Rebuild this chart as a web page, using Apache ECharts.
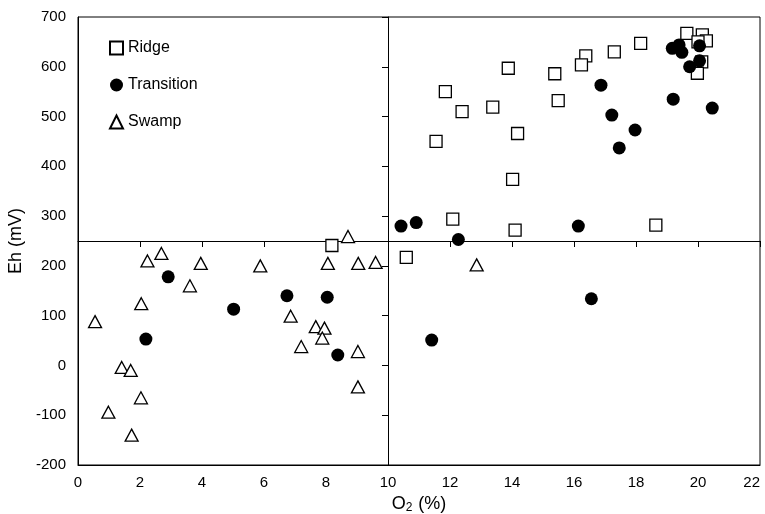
<!DOCTYPE html>
<html>
<head>
<meta charset="utf-8">
<script src="https://cdn.jsdelivr.net/npm/echarts@6/dist/echarts.min.js"></script>
<style>html,body{margin:0;padding:0;background:#fff}#c{width:765px;height:514px}</style>
</head>
<body>
<div id="c"></div>
<script>
const xTicks = [0,2,4,6,8,10,12,14,16,18,20,22];
const yTicks = [-200,-100,0,100,200,300,400,500,600,700];
const crossO2 = 10;
const crossEh = 250;

const ridgeO2 = [19.64,20.14,20.27,20.0,20.12,19.98,18.15,17.3,16.38,16.24,15.38,13.88,15.49,11.85,13.38,12.39,14.18,11.55,14.02,12.09,14.1,18.64,10.59,8.19];
const ridgeEh = [667,664,652,650,610,587,647,630,622,604,586,597,532,550,519,510,466,450,374,294,272,282,217,241];

const transO2 = [19.39,19.17,19.48,20.05,20.05,19.73,16.87,19.2,20.46,17.22,17.97,17.46,10.42,10.91,12.27,16.14,16.56,11.41,2.91,6.74,8.04,5.02,2.19,8.38];
const transEh = [644,637,629,642,612,600,563,535,517,503,473,437,280,287,253,280,134,51,178,140,137,113,53,21];

const swampO2 = [8.71,2.69,2.24,3.96,5.88,8.06,9.04,9.6,3.61,2.04,0.55,6.86,7.67,7.95,7.88,7.2,9.03,1.41,1.7,9.03,2.03,0.98,1.73,12.86];
const swampEh = [259,225,210,205,200,205,205,207,160,124,88,99,78,75,55,38,28,-4,-10,-43,-65,-94,-140,202];

const zip = (a,b) => a.map((v,i)=>[v,b[i]]);
const xMin = xTicks[0], xMax = xTicks[xTicks.length-1], xInt = xTicks[1]-xTicks[0];
const yMin = yTicks[0], yMax = yTicks[yTicks.length-1], yInt = yTicks[1]-yTicks[0];

const font = 'Liberation Sans, Arial, sans-serif';
const chart = echarts.init(document.getElementById('c'));
chart.setOption({
  animation:false,
  backgroundColor:'#fff',
  grid:{left:78,right:5,top:17,bottom:49,show:true,borderColor:'#000',borderWidth:1,containLabel:false,outerBoundsMode:'none'},
  legend:{
    orient:'vertical',left:104,top:35,itemGap:21,itemWidth:13,itemHeight:13,
    textStyle:{fontFamily:font,fontSize:16,color:'#000'},
    data:['Ridge','Transition','Swamp']
  },
  xAxis:[
    {type:'value',min:xMin,max:xMax,interval:xInt,position:'bottom',
     name:'{a|O}{b|2}{a| (%)}',nameLocation:'middle',nameGap:28,
     nameTextStyle:{rich:{a:{fontFamily:font,fontSize:18,color:'#000'},b:{fontFamily:font,fontSize:12,color:'#000',padding:[8,1,0,0]}}},
     axisLine:{onZero:false,lineStyle:{color:'#000',width:1}},axisTick:{show:false},
     axisLabel:{fontFamily:font,fontSize:15,color:'#000',margin:10,alignMaxLabel:'right'},splitLine:{show:false}},
    {type:'value',min:xMin,max:xMax,interval:xInt,position:'top',
     axisLine:{onZero:true,onZeroAxisIndex:1,lineStyle:{color:'#000',width:1}},
     axisTick:{show:true,inside:true,length:6,lineStyle:{color:'#000'}},
     axisLabel:{show:false},splitLine:{show:false}},
    {type:'value',min:xMin-crossO2,max:xMax-crossO2,show:false,axisLine:{onZero:false},splitLine:{show:false}}
  ],
  yAxis:[
    {type:'value',min:yMin,max:yMax,interval:yInt,position:'left',
     name:'Eh (mV)',nameLocation:'middle',nameGap:47,
     nameTextStyle:{fontFamily:font,fontSize:18,color:'#000'},
     axisLine:{show:true,onZero:false,lineStyle:{color:'#000',width:1}},axisTick:{show:false},
     axisLabel:{fontFamily:font,fontSize:15,color:'#000',margin:12},splitLine:{show:false}},
    {type:'value',min:yMin-crossEh,max:yMax-crossEh,show:false,axisLine:{onZero:false},splitLine:{show:false}},
    {type:'value',min:yMin,max:yMax,interval:yInt,position:'right',
     axisLine:{show:true,onZero:true,onZeroAxisIndex:2,lineStyle:{color:'#000',width:1}},
     axisTick:{show:true,inside:true,length:6,lineStyle:{color:'#000'}},
     axisLabel:{show:false},splitLine:{show:false}}
  ],
  series:[
    {name:'Ridge',type:'scatter',xAxisIndex:0,yAxisIndex:0,symbol:'rect',symbolSize:12,z:2,
     itemStyle:{color:'#fff',borderColor:'#000',borderWidth:1.3,opacity:1},data:zip(ridgeO2,ridgeEh)},
    {name:'Transition',type:'scatter',xAxisIndex:0,yAxisIndex:0,symbol:'circle',symbolSize:13,z:4,
     itemStyle:{color:'#000',borderColor:'#000',borderWidth:0,opacity:1},data:zip(transO2,transEh)},
    {name:'Swamp',type:'scatter',xAxisIndex:0,yAxisIndex:0,symbol:'triangle',symbolSize:[13,12],z:3,
     itemStyle:{color:'#fff',borderColor:'#000',borderWidth:1.3,opacity:1},data:zip(swampO2,swampEh)}
  ]
});
</script>
</body>
</html>
